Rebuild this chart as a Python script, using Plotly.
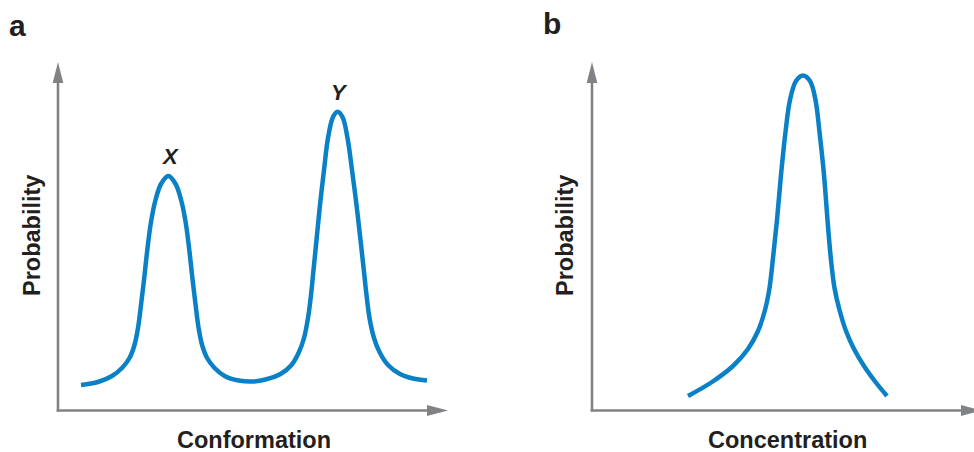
import plotly.graph_objects as go

# Schematic curves, arbitrary units (x: 0-390 along axis, y: 0-349 up the axis)
# Panel a: probability vs conformation
conf_x = [23, 40, 54, 64, 71.5, 76.5, 80, 83, 86, 89.3, 93, 97.5, 103, 110.3,
          117.6, 123.1, 127.6, 131.3, 134.6, 137.6, 140.6, 144.1, 149.1, 156.6, 166.6,
          180.6, 195, 207.5,
          222.5, 233.5, 241, 246, 250, 253, 255.5, 258.5, 262, 266, 270, 275, 279.5,
          284.5, 289.5, 294, 298.5, 302.5, 305.8, 308.5, 311.5, 316, 321.5, 330, 342, 355, 369]
conf_p = [26, 29, 35, 43, 53, 66, 83, 106, 131, 161, 189, 211, 227, 235,
          227, 211, 189, 161, 131, 106, 83, 66, 53, 43, 35,
          30.5, 29.5, 31.5,
          37, 46, 59, 73, 93, 116, 141, 171, 206, 241, 273, 294, 299.3,
          294, 273, 241, 206, 171, 141, 116, 93, 73, 59, 46, 37, 32.5, 30.5]

# Panel b: probability vs concentration
conc_x = [96, 120, 141, 156, 166, 173, 177.5, 181, 185, 189, 193.5, 198, 204, 211,
          218, 223.5, 227.5, 232, 235.5, 238.8, 242.5, 247.5, 254, 262, 272, 283.5, 295]
conc_p = [15, 29, 45, 62, 80, 101, 123, 153, 191, 236, 279, 311, 330, 335.5,
          330, 311, 279, 236, 191, 153, 123, 101, 80, 62, 45, 29, 15]

peak_labels = ["X", "Y"]
peak_x = [110.3, 279.5]
peak_p = [235, 299.3]

W, H = 974, 452
BLUE = "#0a80c6"
GRAY = "#808285"
FONT = "Liberation Sans, Arial, sans-serif"

def px(x):
    return x / W

def py(y):
    return 1 - y / H

fig = go.Figure()
fig.add_trace(go.Scatter(x=conf_x, y=conf_p, mode="lines", xaxis="x", yaxis="y",
                         line=dict(color=BLUE, width=4.5, shape="spline", smoothing=1.0),
                         showlegend=False, hoverinfo="skip"))
fig.add_trace(go.Scatter(x=conc_x, y=conc_p, mode="lines", xaxis="x2", yaxis="y2",
                         line=dict(color=BLUE, width=4.5, shape="spline", smoothing=1.0),
                         showlegend=False, hoverinfo="skip"))

ax_common = dict(showgrid=False, zeroline=False, showline=False, showticklabels=False, ticks="",
                 fixedrange=True)
fig.update_layout(
    width=W, height=H,
    margin=dict(l=0, r=0, t=0, b=0),
    paper_bgcolor="white", plot_bgcolor="rgba(0,0,0,0)",
    xaxis=dict(domain=[px(58), px(448)], range=[0, 390], **ax_common),
    yaxis=dict(domain=[py(411), py(62)], range=[0, 349], **ax_common),
    xaxis2=dict(domain=[px(592), 1.0], range=[0, W - 592], anchor="y2", **ax_common),
    yaxis2=dict(domain=[py(411), py(62)], range=[0, 349], anchor="x2", **ax_common),
)

shapes = []
def axis_arrows(x0, y0, x_tip, y_tip):
    shapes.append(dict(type="line", xref="paper", yref="paper", x0=px(x0), y0=py(y0 + 1),
                       x1=px(x0), y1=py(y_tip + 20), line=dict(color=GRAY, width=2.6)))
    shapes.append(dict(type="path", xref="paper", yref="paper",
                       path=f"M {px(x0-5.3)} {py(y_tip+21)} L {px(x0+5.3)} {py(y_tip+21)} L {px(x0)} {py(y_tip)} Z",
                       fillcolor=GRAY, line=dict(width=0)))
    shapes.append(dict(type="line", xref="paper", yref="paper", x0=px(x0 - 1.3), y0=py(y0),
                       x1=px(x_tip - 20), y1=py(y0), line=dict(color=GRAY, width=2.6)))
    shapes.append(dict(type="path", xref="paper", yref="paper",
                       path=f"M {px(x_tip-21)} {py(y0-5.5)} L {px(x_tip-21)} {py(y0+5.5)} L {px(x_tip)} {py(y0)} Z",
                       fillcolor=GRAY, line=dict(width=0)))

axis_arrows(58, 410.5, 448, 62)
axis_arrows(592, 410.5, 982, 62)
fig.update_layout(shapes=shapes)

ann = []
def text(x, y, s, size, angle=0):
    ann.append(dict(x=px(x), y=py(y), xref="paper", yref="paper", text=f"<b>{s}</b>", showarrow=False,
                    textangle=angle, xanchor="center", yanchor="middle",
                    font=dict(family=FONT, size=size, color="#231f20")))

text(17, 25, "a", 30)
text(552, 23, "b", 30)
text(32, 236, "Probability", 23.5, angle=-90)
text(565, 236, "Probability", 23.5, angle=-90)
text(254, 440, "Conformation", 23.5)
text(787, 440, "Concentration", 23.5)
fig.update_layout(annotations=ann)

for lab, xv, yv in zip(peak_labels, peak_x, peak_p):
    fig.add_annotation(x=xv, y=yv, xref="x", yref="y", text=f"<b><i>{lab}</i></b>", showarrow=False,
                       yanchor="bottom", yshift=5, xshift=2,
                       font=dict(family=FONT, size=22, color="#231f20"))

fig.write_html("out.html", config={"displayModeBar": False},
               post_script="document.body.style.margin='0';document.body.style.overflow='hidden';")
